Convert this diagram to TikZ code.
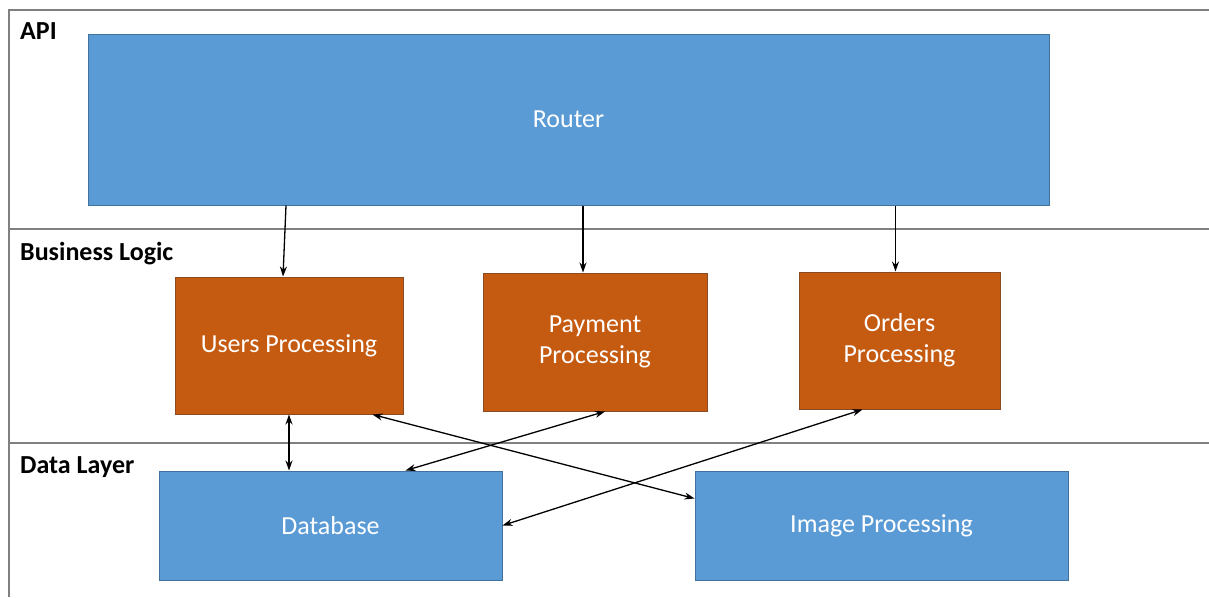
\documentclass[tikz,border=0pt]{standalone}
\usepackage{fontspec}
\setmainfont{Carlito}
\usetikzlibrary{arrows.meta}
\definecolor{boxblue}{HTML}{5B9BD5}
\definecolor{boxblueline}{HTML}{41719C}
\definecolor{boxorange}{HTML}{C55A11}
\definecolor{boxorangeline}{HTML}{8A4A22}
\definecolor{frameline}{HTML}{808080}
\tikzset{
  blueblock/.style={draw=boxblueline, fill=boxblue, line width=1pt, text=white,
    align=center, font=\fontsize{26}{31}\selectfont, inner sep=0pt},
  orangeblock/.style={draw=boxorangeline, fill=boxorange, line width=1pt, text=white,
    align=center, font=\fontsize{26}{31}\selectfont, inner sep=0pt},
  layername/.style={anchor=base west, font=\fontsize{26}{30}\selectfont\bfseries, inner sep=0pt},
  link/.style={line width=1.3pt, -{Stealth[length=10pt,width=7pt]}},
  twolink/.style={line width=1.3pt, {Stealth[length=10pt,width=7pt]}-{Stealth[length=10pt,width=7pt]}}
}
\begin{document}
\begin{tikzpicture}[x=1pt, y=-1pt]
	\useasboundingbox (0,0) rectangle (1209,597);
	
	% layer frame
	\draw[frameline, line width=2pt] (1209,10) -- (9,10) -- (9,597);
	\draw[frameline, line width=2pt] (9,229) -- (1209,229) (9,443) -- (1209,443);
	\node[layername] (api) at (20,39) {API};
	\node[layername] (logic) at (20,260) {Business Logic};
	\node[layername] (data) at (20,473) {Data Layer};
	
	% blocks
	\node[blueblock, minimum width=961pt, minimum height=171pt] (router) at (568.5,119.5) {Router};
	\node[orangeblock, minimum width=228pt, minimum height=137pt] (users) at (289,345.5) {Users Processing};
	\node[orangeblock, minimum width=224pt, minimum height=138pt] (payment) at (595,342) {Payment\\Processing};
	\node[orangeblock, minimum width=201pt, minimum height=137pt] (orders) at (899.5,340.5) {Orders\\Processing};
	\node[blueblock, minimum width=343pt, minimum height=109pt] (database) at (330.5,525.5) {Database};
	\node[blueblock, minimum width=373pt, minimum height=109pt] (image) at (881.5,525.5) {Image Processing};
	
	% calls
	\draw[link] ([xshift=-3pt]router.south -| users.north) -- ([xshift=-6pt]users.north);
	\draw[link] ([xshift=-12pt]router.south -| payment.north) -- ([xshift=-12pt]payment.north);
	\draw[link] ([xshift=-4pt]router.south -| orders.north) -- ([xshift=-4pt]orders.north);
	\draw[twolink] (users.south) -- (users.south |- database.north);
	\draw[twolink] ([xshift=-31pt]users.south east) -- ([yshift=27pt]image.west);
	\draw[twolink] ([xshift=10pt]payment.south) -- ([xshift=75pt]database.north);
	\draw[twolink] ([xshift=-37pt]orders.south) -- (database.east);
\end{tikzpicture}
\end{document}
